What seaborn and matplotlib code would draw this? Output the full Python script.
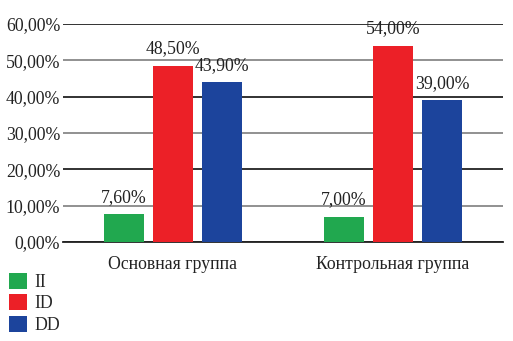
import matplotlib
matplotlib.use("Agg")
import matplotlib.pyplot as plt
import seaborn as sns
import pandas as pd
from matplotlib.patches import Patch

groups = ["Основная группа", "Контрольная группа"]
genotypes = ["II", "ID", "DD"]
values_main = [7.60, 48.50, 43.90]
values_control = [7.00, 54.00, 39.00]
colors = ["#21A84F", "#EC2027", "#1C449C"]
yticks = [0, 10, 20, 30, 40, 50, 60]

rows = []
for g, vals in zip(groups, [values_main, values_control]):
    for gt, v in zip(genotypes, vals):
        rows.append({"group": g, "genotype": gt, "value": v})
df = pd.DataFrame(rows)

sns.set_theme(style="white")
plt.rcParams["font.family"] = ["Liberation Serif", "DejaVu Serif"]

fig = plt.figure(figsize=(5.13, 3.41), dpi=100)
ax = fig.add_axes([63 / 513, 1 - 242 / 341, 440 / 513, 218 / 341])

sns.barplot(data=df, x="group", y="value", hue="genotype", hue_order=genotypes,
            palette=colors, width=0.668, gap=0.2, saturation=1, ax=ax,
            legend=False, linewidth=0, zorder=3)

ax.set_xlim(-0.5, 1.5)
ax.set_ylim(0, 60)
ax.set_yticks(yticks)
ax.set_yticklabels([f"{t:.2f}".replace(".", ",") + "%" for t in yticks], fontsize=12.8, color="#222")
ax.tick_params(axis="x", labelsize=12.8, colors="#222", pad=10, length=0)
ax.tick_params(axis="y", pad=2, length=0)
ax.set_xlabel("")
ax.set_ylabel("")

for i, t in enumerate(yticks):
    ax.axhline(t, color="#222" if i % 2 == 0 else "#888", lw=1.3, zorder=1)

for s in ["left", "right", "top"]:
    ax.spines[s].set_visible(False)
ax.spines["bottom"].set_color("#222")
ax.spines["bottom"].set_linewidth(1.3)

for cont in ax.containers:
    ax.bar_label(cont, labels=[f"{b.get_height():.2f}".replace(".", ",") + "%" for b in cont],
                 padding=6, fontsize=12.8, color="#222")

handles = [Patch(facecolor=c, edgecolor="none") for c in colors]
fig.legend(handles, genotypes, loc="lower left", bbox_to_anchor=(9 / 513, 7 / 341),
           frameon=False, fontsize=12.8, handlelength=1.0, handleheight=1.0,
           handletextpad=0.45, labelspacing=0.2, borderpad=0, borderaxespad=0)

fig.savefig("out.png", dpi=100)
